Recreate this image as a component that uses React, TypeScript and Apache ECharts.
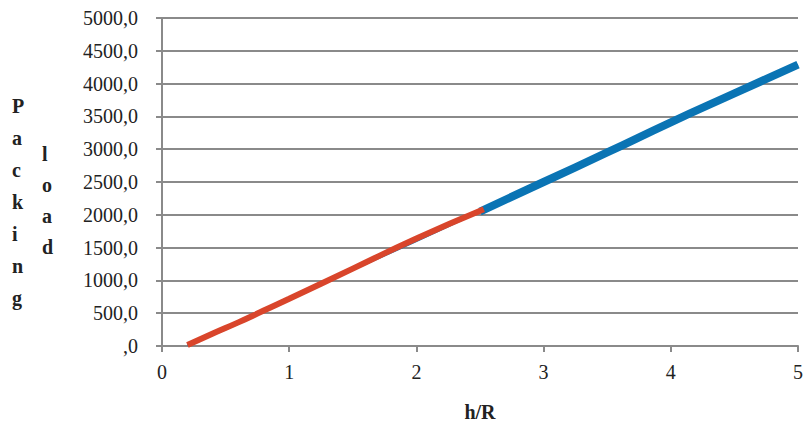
import React, { useEffect, useRef } from "react";
import * as echarts from "echarts";

const xValues = [0.2, 0.4, 0.6, 0.8, 1.0, 1.5, 2.0, 2.5, 3.0, 3.5, 4.0, 4.5, 5.0];
const loadValues = [10, 170, 340, 520, 700, 1160, 1600, 2050, 2500, 2950, 3410, 3850, 4290];
const redX = [0.2, 0.4, 0.6, 0.8, 1.0, 1.5, 2.0, 2.53];
const redValues = [15, 190, 360, 540, 720, 1180, 1640, 2085];
const yTickLabels = [",0", "500,0", "1000,0", "1500,0", "2000,0", "2500,0", "3000,0", "3500,0", "4000,0", "4500,0", "5000,0"];
const xTickLabels = ["0", "1", "2", "3", "4", "5"];

export default function App() {
  const ref = useRef<HTMLDivElement>(null);
  useEffect(() => {
    const chart = echarts.init(ref.current!, null, { renderer: "svg" });
    const font = "Liberation Serif";
    const blueAll = xValues.map((x, i) => [x, loadValues[i]]);
    const blueThick = xValues.map((x, i) => [x, loadValues[i]]).filter((p) => p[0] >= 2.5);
    const red = redX.map((x, i) => [x, redValues[i]]);
    chart.setOption({
      animation: false,
      grid: { left: 162, right: 7, top: 18, bottom: 77, containLabel: false, outerBoundsMode: "none" },
      xAxis: {
        type: "value",
        min: 0,
        max: 5,
        interval: 1,
        name: "h/R",
        nameLocation: "middle",
        nameGap: 56,
        nameTextStyle: { fontFamily: font, fontSize: 20, fontWeight: "bold", color: "#222" },
        axisLine: { show: true, lineStyle: { color: "#8a8a8a", width: 2 } },
        axisTick: { show: true, length: 6, lineStyle: { color: "#8a8a8a", width: 2 } },
        axisLabel: {
          fontFamily: font,
          fontSize: 20,
          color: "#222",
          margin: 16,
          formatter: (v: number) => xTickLabels[Math.round(v)] ?? "",
        },
        splitLine: { show: false },
      },
      yAxis: {
        type: "value",
        min: 0,
        max: 5000,
        interval: 500,
        axisLine: { show: true, lineStyle: { color: "#8a8a8a", width: 2 } },
        axisTick: { show: true, length: 6, lineStyle: { color: "#8a8a8a", width: 2 } },
        axisLabel: {
          fontFamily: font,
          fontSize: 20,
          color: "#222",
          margin: 24,
          formatter: (v: number) => yTickLabels[Math.round(v / 500)] ?? "",
        },
        splitLine: { show: true, lineStyle: { color: "#8a8a8a", width: 2 } },
      },
      graphic: [
        {
          type: "text",
          left: 12,
          top: 90,
          style: {
            text: "P\na\nc\nk\ni\nn\ng",
            font: "bold 20px " + font,
            fill: "#222",
            lineHeight: 32,
            align: "center",
          },
        },
        {
          type: "text",
          left: 42,
          top: 138,
          style: {
            text: "l\no\na\nd",
            font: "bold 20px " + font,
            fill: "#222",
            lineHeight: 31,
            align: "center",
          },
        },
      ],
      series: [
        {
          type: "line",
          data: blueAll,
          showSymbol: false,
          smooth: true,
          lineStyle: { color: "#0a74b4", width: 2 },
          z: 2,
        },
        {
          type: "line",
          data: blueThick,
          showSymbol: false,
          smooth: true,
          lineStyle: { color: "#0a74b4", width: 8 },
          z: 3,
        },
        {
          type: "line",
          data: red,
          showSymbol: false,
          smooth: true,
          lineStyle: { color: "#d9452b", width: 6 },
          z: 4,
        },
      ],
    });
    return () => chart.dispose();
  }, []);
  return <div ref={ref} style={{ width: 805, height: 423, position: "absolute", left: 0, top: 0 }} />;
}
